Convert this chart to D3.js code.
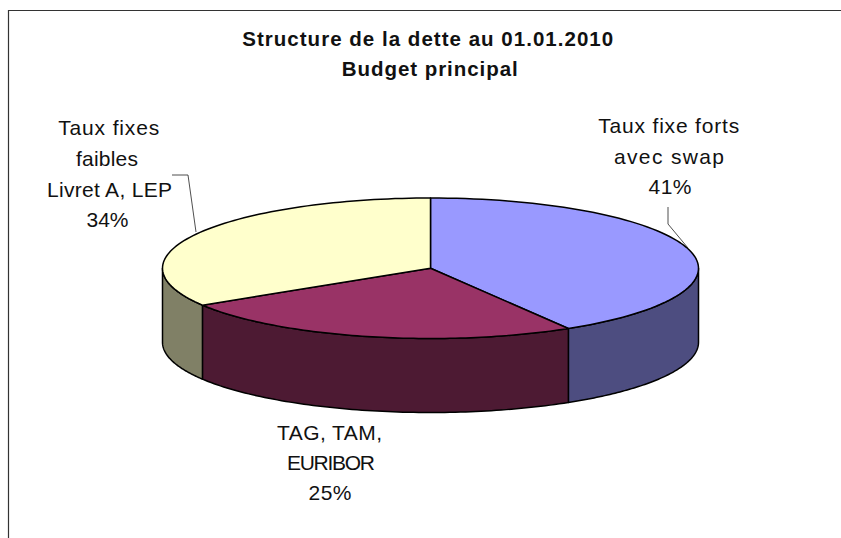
<!DOCTYPE html>
<html><head><meta charset="utf-8">
<script src="https://cdn.jsdelivr.net/npm/d3@7"></script>
<style>html,body{margin:0;padding:0;background:#fff}svg{display:block}text{font-family:"Liberation Sans",Arial,sans-serif;fill:#111}</style>
</head><body><svg id="c" width="841" height="538"></svg>
<script>
const categories = ["Taux fixe forts avec swap", "TAG, TAM, EURIBOR", "Taux fixes faibles Livret A, LEP"];
const values = [41.4, 24.8, 33.8];
const topColors = ["#9999ff", "#993366", "#ffffcc"];
const wallColors = ["#4d4d80", "#4d1a33", "#808066"];
const titleLines = ["Structure de la dette au 01.01.2010", "Budget principal"];
const labelLines = [["Taux fixe forts", "avec swap", "41%"], ["TAG, TAM,", "EURIBOR", "25%"], ["Taux fixes", "faibles", "Livret A, LEP", "34%"]];

const svg = d3.select("#c");
svg.append("path").attr("d", "M8.5,538V10.5H841").attr("fill", "none").attr("stroke", "#333").attr("stroke-width", 1.2);

const x = d3.scaleLinear().domain([-1, 1]).range([162.5, 698.5]);
const y = d3.scaleLinear().domain([-1, 1]).range([198, 338.5]);
const depth = 74;
const arcs = d3.pie().sort(null).value(d => d)(values);
const pt = (t, dy = 0) => [x(Math.sin(t)), y(-Math.cos(t)) + dy];
const sample = (a, b, dy = 0) => d3.range(0, 81).map(i => pt(a + (b - a) * i / 80, dy));
const line = d3.line();

arcs.forEach((d, i) => {
  const a = Math.max(d.startAngle, Math.PI / 2), b = Math.min(d.endAngle, 3 * Math.PI / 2);
  if (a >= b) return;
  svg.append("path").attr("d", line([...sample(a, b), ...sample(b, a, depth)]) + "Z")
    .attr("fill", wallColors[i]).attr("stroke", "#000").attr("stroke-width", 1.5).attr("stroke-linejoin", "round");
});
arcs.forEach((d, i) => {
  svg.append("path").attr("d", line([[x(0), y(0)], ...sample(d.startAngle, d.endAngle)]) + "Z")
    .attr("fill", topColors[i]).attr("stroke", "#000").attr("stroke-width", 1.5).attr("stroke-linejoin", "round");
});

const leaderPaths = [[[668, 207], [668, 224], [688, 248]], [[172, 175], [188, 175], [196, 232]]];
leaderPaths.forEach(l => svg.append("path").attr("d", line(l)).attr("fill", "none").attr("stroke", "#222").attr("stroke-width", 0.8));

const titleLayout = [[427.7, 45.7, 371], [429.7, 76, 176]];
titleLines.forEach((t, i) => svg.append("text").text(t)
  .attr("x", titleLayout[i][0]).attr("y", titleLayout[i][1])
  .attr("textLength", titleLayout[i][2]).attr("lengthAdjust", "spacing")
  .attr("text-anchor", "middle").attr("font-weight", "bold").attr("font-size", 20.5));

const labelLayout = [
  [[668.7, 133.3, 141], [669, 164, 110], [670, 194, 43]],
  [[329.5, 440, 105], [331, 470, 88], [330, 500, 43]],
  [[108.7, 135, 101], [107, 165.7, 62], [109.5, 196.7, 125], [107.5, 226.7, 42]]
];
labelLines.forEach((ls, k) => ls.forEach((t, i) => svg.append("text").text(t)
  .attr("x", labelLayout[k][i][0]).attr("y", labelLayout[k][i][1])
  .attr("textLength", labelLayout[k][i][2]).attr("lengthAdjust", "spacing")
  .attr("text-anchor", "middle").attr("font-size", 21)));
</script></body></html>
